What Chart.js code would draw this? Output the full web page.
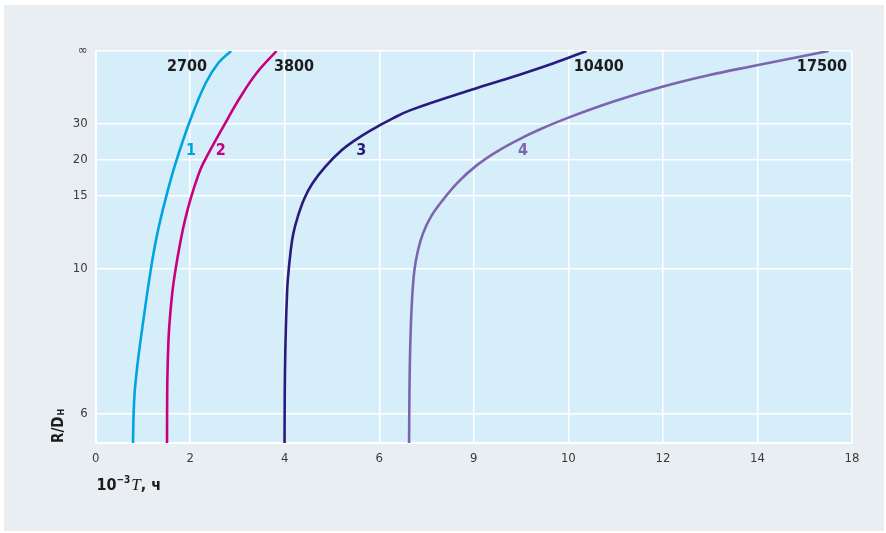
<!DOCTYPE html>
<html>
<head>
<meta charset="utf-8">
<script src="https://cdn.jsdelivr.net/npm/chart.js@4.4.1/dist/chart.umd.min.js"></script>
<style>
  html, body { margin: 0; padding: 0; background: #ffffff; }
  #panel { position: absolute; left: 4px; top: 5px; width: 880px; height: 526px; background: #e9eef2; }
  #chart { position: absolute; left: 0; top: 0; }
</style>
</head>
<body>
<div id="panel"></div>
<canvas id="chart" width="886" height="533"></canvas>
<script>
// tick labels as printed in the figure
const xTickLabels = ['0', '2', '4', '6', '9', '10', '12', '14', '18'];
const yTickValues = [Infinity, 30, 20, 15, 10, 6];
const yTickLabels = ['∞', '30', '20', '15', '10', '6'];

const curveNames = ['1', '2', '3', '4'];
const curveEnds = ['2700', '3800', '10400', '17500'];

// 10^-3 T (h) and R/D_H
const curve1T  = [0.791, 0.804, 0.825, 0.857, 0.897, 0.99, 1.166, 1.303, 1.485, 1.686, 2.014, 2.33, 2.596, 2.865];
const curve1RD = [5.55, 6.0, 6.36, 6.67, 7.04, 7.88, 9.93, 11.88, 14.79, 19.24, 32.2, 67.9, 181, Infinity];

const curve2T  = [1.511, 1.512, 1.519, 1.536, 1.557, 1.621, 1.689, 1.788, 1.89, 2.014, 2.158, 2.268, 2.797, 3.062, 3.407, 3.828];
const curve2RD = [5.55, 6.0, 6.67, 7.34, 7.88, 8.98, 9.93, 11.32, 12.86, 14.79, 17.25, 19.24, 32.2, 47.3, 98.8, Infinity];

const curve3T  = [3.997, 3.999, 4.006, 4.025, 4.044, 4.065, 4.128, 4.183, 4.276, 4.416, 4.585, 4.856, 5.209, 5.491, 5.829, 6.287, 6.663, 7.933, 8.915, 9.689, 10.383];
const curve3RD = [5.55, 6.0, 6.82, 7.88, 8.73, 9.49, 10.92, 11.93, 13.12, 14.76, 16.43, 18.79, 21.96, 24.43, 27.52, 32.3, 36.8, 55.7, 88.7, 176.7, Infinity];

const curve4T  = [6.631, 6.635, 6.642, 6.659, 6.693, 6.744, 6.82, 6.926, 7.091, 7.372, 7.668, 8.041, 8.47, 8.927, 9.416, 9.96, 10.954, 11.968, 12.941, 13.91, 15.504];
const curve4RD = [5.55, 6.0, 6.61, 7.52, 8.73, 9.93, 10.92, 11.93, 13.12, 14.76, 16.6, 18.9, 21.52, 24.43, 27.87, 32.3, 43.05, 60.4, 88.7, 144.9, Infinity];

const xMax = 16;
const rdBottom = 5.55;

const colors = ['#00a4e0', '#c8007e', '#2a1a80', '#7d65ae'];
// where the curve numbers sit (T, R/D)
const numberAt = [[2.02, 21.85], [2.65, 21.85], [5.62, 21.85], [9.04, 21.85]];
// end labels: pixel offset from the curve's top end, and alignment
const endOffsets = [[-24, 'right'], [-2.5, 'left'], [-12.7, 'left'], [18.4, 'right']];

const tickFont = "'Liberation Sans Narrow', 'DejaVu Sans Condensed', sans-serif";

function points(ts, rds) {
    return ts.map((t, i) => ({ x: t, y: 1 / rds[i] }));
}

const series = [
    points(curve1T, curve1RD),
    points(curve2T, curve2RD),
    points(curve3T, curve3RD),
    points(curve4T, curve4RD)
];

const plotBg = {
    id: 'plotBg',
    beforeDraw(chart) {
        const { ctx, chartArea: a } = chart;
        ctx.save();
        ctx.fillStyle = '#d6edfa';
        ctx.fillRect(a.left, a.top, a.right - a.left, a.bottom - a.top);
        ctx.restore();
    }
};

const labels = {
    id: 'labels',
    afterDatasetsDraw(chart) {
        const { ctx, scales: { x, y } } = chart;
        ctx.save();
        ctx.textBaseline = 'middle';
        // end values
        ctx.font = "bold 16px " + tickFont;
        ctx.fillStyle = '#1c1c1c';
        series.forEach((pts, i) => {
            const last = pts[pts.length - 1];
            ctx.textAlign = endOffsets[i][1];
            ctx.fillText(curveEnds[i], x.getPixelForValue(last.x) + endOffsets[i][0], y.getPixelForValue(last.y) + 16);
        });
        // curve numbers
        ctx.font = "bold 16px " + tickFont;
        ctx.textAlign = 'center';
        curveNames.forEach((n, i) => {
            ctx.fillStyle = colors[i];
            ctx.fillText(n, x.getPixelForValue(numberAt[i][0]), y.getPixelForValue(1 / numberAt[i][1]));
        });
        ctx.restore();

        // axis titles
        ctx.save();
        ctx.fillStyle = '#1c1c1c';
        ctx.textAlign = 'left';
        ctx.textBaseline = 'alphabetic';
        let px = 96.5;
        const base = 489.5;
        ctx.font = "bold 16px " + tickFont;
        ctx.fillText('10', px, base);
        px += ctx.measureText('10').width;
        ctx.font = "bold 10px " + tickFont;
        ctx.fillText('\u22123', px, base - 7);
        px += ctx.measureText('\u22123').width + 1;
        ctx.font = "italic 17px 'Liberation Serif', serif";
        ctx.fillText('T', px, base);
        px += ctx.measureText('T').width;
        ctx.font = "bold 16px " + tickFont;
        ctx.fillText(', ч', px, base);

        ctx.translate(63, 443);
        ctx.rotate(-Math.PI / 2);
        ctx.font = "bold 15px " + tickFont;
        ctx.fillText('R/D', 0, 0);
        const w = ctx.measureText('R/D').width;
        ctx.font = "bold 9px " + tickFont;
        ctx.fillText('H', w + 1, 1);
        ctx.restore();
    }
};

new Chart(document.getElementById('chart'), {
    type: 'line',
    data: {
        datasets: series.map((pts, i) => ({
            label: curveNames[i],
            data: pts,
            borderColor: colors[i],
            borderWidth: 2.6,
            pointRadius: 0,
            tension: 0.4,
            fill: false
        }))
    },
    options: {
        responsive: false,
        animation: false,
        devicePixelRatio: 1,
        layout: { padding: { top: 51, right: 34, left: 0, bottom: 0 } },
        plugins: {
            legend: { display: false },
            tooltip: { enabled: false }
        },
        scales: {
            x: {
                type: 'linear',
                min: 0,
                max: xMax,
                afterFit(scale) { scale.height = 90; },
                ticks: {
                    stepSize: 2,
                    padding: 8,
                    color: '#3a3a3a',
                    font: { family: tickFont, size: 13 },
                    maxRotation: 0,
                    callback: (v, i) => xTickLabels[i]
                },
                grid: { color: '#ffffff', lineWidth: 1.5, drawTicks: false },
                border: { color: '#ffffff', width: 2 }
            },
            y: {
                type: 'linear',
                reverse: true,
                min: 0,
                max: 1 / rdBottom,
                afterFit(scale) { scale.width = 95.6; },
                afterBuildTicks(scale) {
                    scale.ticks = yTickValues.map(v => ({ value: 1 / v }));
                },
                ticks: {
                    padding: 8,
                    color: '#3a3a3a',
                    font: { family: tickFont, size: 13 },
                    callback: (v, i) => yTickLabels[i]
                },
                grid: { color: '#ffffff', lineWidth: 1.5, drawTicks: false },
                border: { color: '#ffffff', width: 2 }
            }
        }
    },
    plugins: [plotBg, labels]
});
</script>
</body>
</html>
